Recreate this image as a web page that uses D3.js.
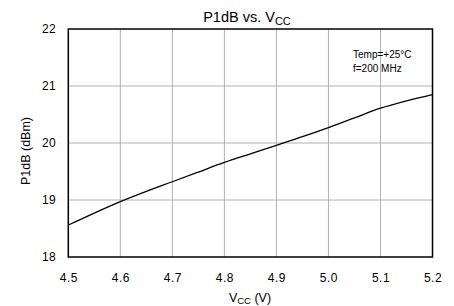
<!DOCTYPE html>
<html><head><meta charset="utf-8">
<script src="https://cdn.jsdelivr.net/npm/d3@7"></script>
<style>body{margin:0;background:#fff}svg{display:block}text{font-family:"Liberation Sans",Arial,sans-serif}</style>
</head><body>
<script>
const vcc = [4.5,4.55,4.6,4.65,4.7,4.75,4.8,4.85,4.9,4.95,5.0,5.05,5.1,5.15,5.2];
const p1db = [18.56,18.77,18.97,19.15,19.32,19.49,19.66,19.81,19.96,20.11,20.27,20.44,20.61,20.74,20.85];
const xTicks = [4.5,4.6,4.7,4.8,4.9,5.0,5.1,5.2];
const yTicks = [18,19,20,21,22];

const W=454,H=306;
const FF="Liberation Sans, Arial, sans-serif";
const svg=d3.select("body").append("svg").attr("width",W).attr("height",H);
const x=d3.scaleLinear().domain([4.5,5.2]).range([68.3,432.5]);
const y=d3.scaleLinear().domain([18,22]).range([257,29]);

const g=svg.append("g");
g.selectAll(".vg").data(xTicks.slice(1,-1)).join("line")
 .attr("x1",d=>x(d)).attr("x2",d=>x(d)).attr("y1",y(22)).attr("y2",y(18))
 .attr("stroke","#b0b0b0").attr("stroke-width",1);
g.selectAll(".hg").data(yTicks.slice(1,-1)).join("line")
 .attr("y1",d=>y(d)).attr("y2",d=>y(d)).attr("x1",x(4.5)).attr("x2",x(5.2))
 .attr("stroke","#b0b0b0").attr("stroke-width",1);

const line=d3.line().x((d,i)=>x(vcc[i])).y(d=>y(d)).curve(d3.curveMonotoneX);
g.append("path").datum(p1db).attr("d",line).attr("fill","none").attr("stroke","#000").attr("stroke-width",1.3);

g.append("rect").attr("x",x(4.5)).attr("y",y(22)).attr("width",x(5.2)-x(4.5)).attr("height",y(18)-y(22))
 .attr("fill","none").attr("stroke","#000").attr("stroke-width",1.5);

const xa=svg.append("g").attr("transform",`translate(0,${y(18)})`)
 .call(d3.axisBottom(x).tickValues(xTicks).tickFormat(d3.format(".1f")).tickSize(0).tickPadding(0));
xa.select(".domain").remove();
xa.selectAll("text").attr("font-size",12).attr("fill","#000").attr("font-family",FF)
 .attr("letter-spacing",0.5).attr("dy",null).attr("y",25);

const ya=svg.append("g").attr("transform",`translate(${x(4.5)},0)`)
 .call(d3.axisLeft(y).tickValues(yTicks).tickFormat(d3.format("d")).tickSize(0).tickPadding(12));
ya.select(".domain").remove();
ya.selectAll("text").attr("font-size",12).attr("fill","#000").attr("font-family",FF).attr("letter-spacing",0.5);

const t=svg.append("text").attr("x",247).attr("y",22).attr("text-anchor","middle").attr("font-size",14.5);
t.append("tspan").text("P1dB vs. V");
t.append("tspan").text("CC").attr("font-size",11).attr("dy",3);

const xt=svg.append("text").attr("x",250).attr("y",302).attr("text-anchor","middle").attr("font-size",12.5);
xt.append("tspan").text("V");
xt.append("tspan").text("CC").attr("font-size",9.5).attr("dy",2);
xt.append("tspan").text(" (V)").attr("dy",-2);

svg.append("text").attr("transform","translate(29.5,151) rotate(-90)").attr("text-anchor","middle").attr("font-size",12.5).text("P1dB (dBm)");

svg.append("text").attr("x",353).attr("y",58).attr("font-size",10).text("Temp=+25°C");
svg.append("text").attr("x",353).attr("y",72).attr("font-size",10).text("f=200 MHz");
</script>
</body></html>
